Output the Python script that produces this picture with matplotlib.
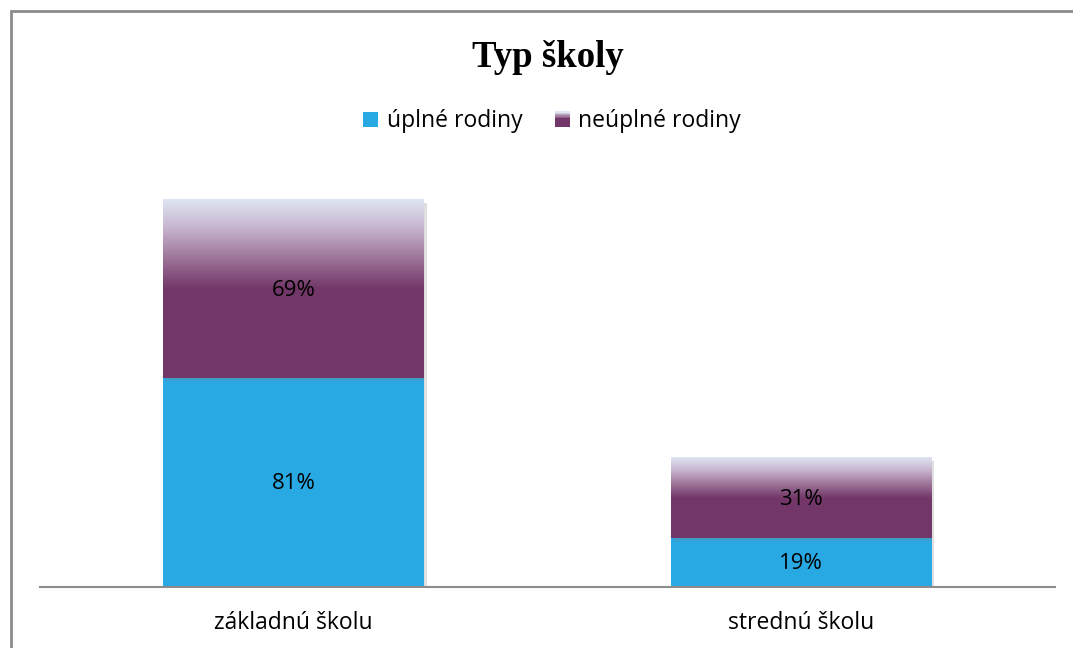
import numpy as np
import matplotlib
matplotlib.use('Agg')
import matplotlib.pyplot as plt
from matplotlib.colors import LinearSegmentedColormap
from matplotlib.patches import Rectangle
from matplotlib.legend_handler import HandlerBase
from matplotlib import patheffects as pe

# DATA
categories = ['základnú školu', 'strednú školu']
uplne = [81, 19]
neuplne = [69, 31]
series_names = ['úplné rodiny', 'neúplné rodiny']

BLUE = '#29a9e4'
PURPLE = '#723768'
LIGHT = '#dfe6f3'
grad = LinearSegmentedColormap.from_list('grad', [PURPLE, '#9c7398', '#c6b2cc', LIGHT])

plt.rcParams['font.family'] = ['Open Sans', 'DejaVu Sans']

fig = plt.figure(figsize=(10.73, 6.48), dpi=100)
ax = fig.add_axes([0.0373, 0.0941, 0.9459, 0.6374])

x = np.arange(len(categories))
w = 0.514
shadow = [pe.SimplePatchShadow(offset=(2, -2), shadow_rgbFace='gray', alpha=0.25), pe.Normal()]
b1 = ax.bar(x, uplne, w, color=BLUE, zorder=2, path_effects=shadow)
b2 = ax.bar(x, neuplne, w, bottom=uplne, color=PURPLE, zorder=2, path_effects=shadow)

# gradient on top half of the purple segments
g = np.linspace(0, 1, 256).reshape(-1, 1)
for p in b2:
    x0, y0, pw, ph = p.get_x(), p.get_y(), p.get_width(), p.get_height()
    ax.imshow(g, cmap=grad, aspect='auto', origin='lower', zorder=3,
              extent=(x0, x0 + pw, y0 + ph * 0.5, y0 + ph), interpolation='bicubic')

# labels
for bars, vals in ((b1, uplne), (b2, neuplne)):
    for p, v in zip(bars, vals):
        ax.text(p.get_x() + p.get_width() / 2, p.get_y() + p.get_height() / 2 - 0.5,
                f'{v}%', ha='center', va='center', fontsize=16, color='black', zorder=4)

ax.set_xlim(-0.5, 1.5)
ax.set_ylim(0, 160)
ax.set_xticks(x)
ax.set_xticklabels(categories, fontsize=16.5)
ax.tick_params(axis='x', length=0, pad=17)
ax.set_yticks([])
for s in ['top', 'right', 'left']:
    ax.spines[s].set_visible(False)
ax.spines['bottom'].set_color('#8c8c8c')
ax.spines['bottom'].set_linewidth(1.5)


# legend with gradient marker
class GradHandler(HandlerBase):
    def create_artists(self, legend, orig, xd, yd, width, height, fontsize, trans):
        arts = []
        n = 12
        side = 15 * 0.72
        y0 = yd + (height - side) / 2
        for i in range(n):
            c = PURPLE if i < n // 2 else grad((i - n // 2) / (n - n // 2 - 1))
            r = Rectangle((xd, y0 + side * i / n), side, side / n + 0.2,
                          facecolor=c, edgecolor='none', transform=trans)
            arts.append(r)
        return arts


class SolidHandler(HandlerBase):
    def create_artists(self, legend, orig, xd, yd, width, height, fontsize, trans):
        side = 15 * 0.72
        return [Rectangle((xd, yd + (height - side) / 2), side, side,
                          facecolor=BLUE, edgecolor='none', transform=trans)]


h1 = Rectangle((0, 0), 1, 1)
h2 = Rectangle((0, 0), 1, 1)
fig.legend([h1, h2], series_names, loc='center', bbox_to_anchor=(0.5145, 0.813),
           ncol=2, frameon=False, fontsize=16.5, handlelength=0.68, handletextpad=0.36,
           columnspacing=1.4, handler_map={h1: SolidHandler(), h2: GradHandler()})

fig.text(0.511, 0.911, 'Typ školy', ha='center', va='center', fontsize=26.5,
         fontweight='bold', family='Liberation Serif')

# outer chart border (left and top visible)
fig.add_artist(Rectangle((11 / 1073, -0.5), 2, 1.5 - 11 / 648, transform=fig.transFigure,
                         fill=False, edgecolor='#8c8c8c', linewidth=2))

fig.savefig('out.png', dpi=100)
